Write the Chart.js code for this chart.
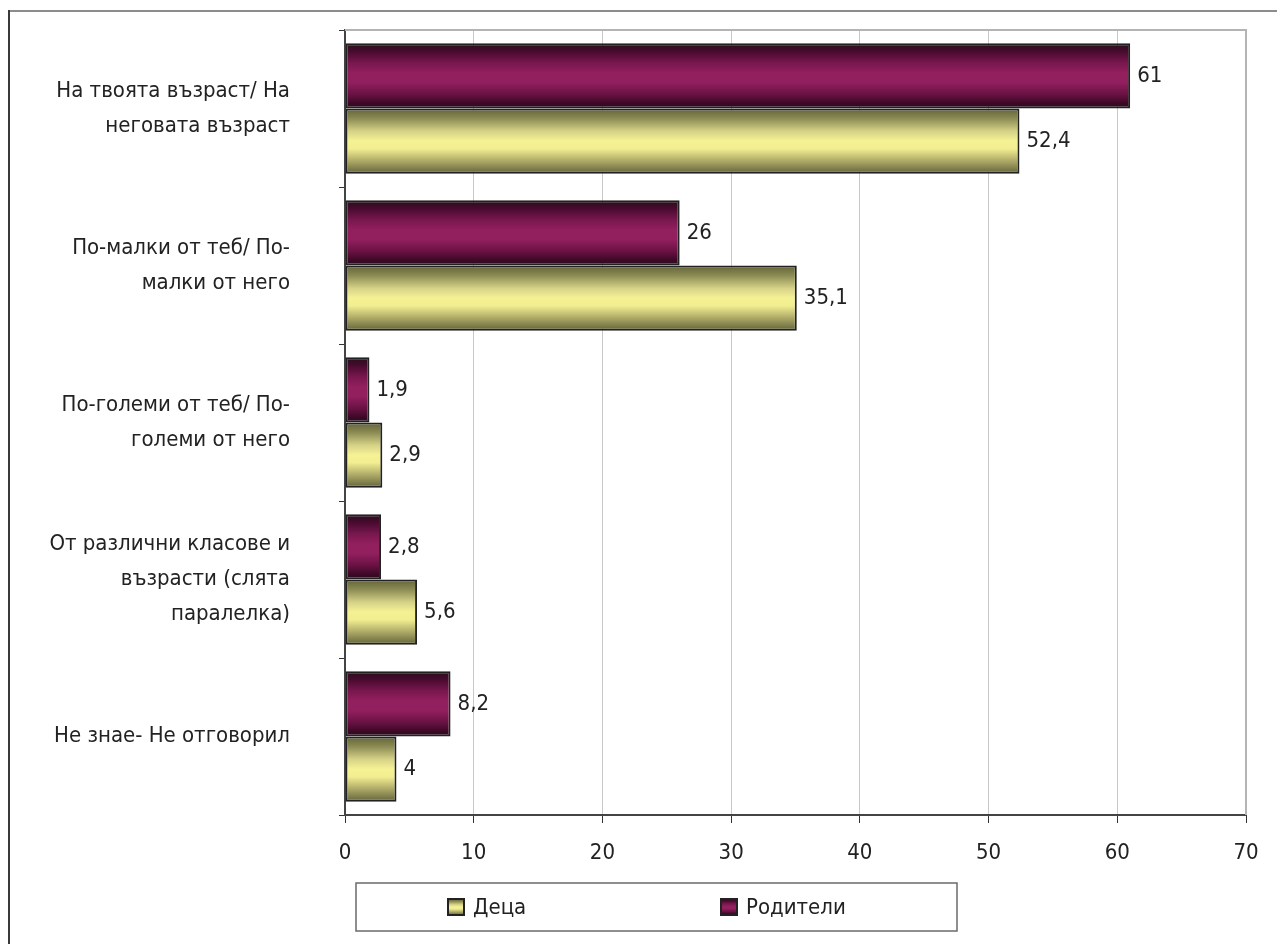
<!DOCTYPE html>
<html>
<head>
<meta charset="utf-8">
<script src="https://cdn.jsdelivr.net/npm/chart.js@4.4.1/dist/chart.umd.min.js"></script>
<style>
  html, body { margin: 0; padding: 0; background: #fff; }
  #wrap { width: 1277px; height: 944px; }
</style>
</head>
<body>
<div id="wrap"><canvas id="ageChart" width="1277" height="944"></canvas></div>
<script>
// survey answers, percent
const categories = [
  ['На твоята възраст/ На', 'неговата възраст'],
  ['По-малки от теб/ По-', 'малки от него'],
  ['По-големи от теб/ По-', 'големи от него'],
  ['От различни класове и', 'възрасти (слята', 'паралелка)'],
  ['Не знае- Не отговорил']
];
const seriesNames = ['Родители', 'Деца'];
const parents = [61, 26, 1.9, 2.8, 8.2];
const children = [52.4, 35.1, 2.9, 5.6, 4];
const xTicks = [0, 10, 20, 30, 40, 50, 60, 70];

const FONT = '"Liberation Sans Narrow", "DejaVu Sans Condensed", "Arial Narrow", sans-serif';
const FONT_SIZE = 22;
const CAT_PCT = 0.83;

const maroonStops = [
  [0, '#26101a'], [0.12, '#470a2e'], [0.3, '#78174e'], [0.45, '#921f5e'],
  [0.6, '#921f5e'], [0.78, '#6a1244'], [0.92, '#3e0826'], [1, '#26101a']
];
const yellowStops = [
  [0, '#62623a'], [0.15, '#8a8a52'], [0.35, '#d6d287'], [0.5, '#f5f294'],
  [0.62, '#f1ed90'], [0.8, '#afab68'], [1, '#62623a']
];

function fmt(v) {
  return String(v).replace('.', ',');
}

function makeGradient(c2d, top, h, stops) {
  const g = c2d.createLinearGradient(0, top, 0, top + h);
  stops.forEach(s => g.addColorStop(s[0], s[1]));
  return g;
}

// shaded fill for each bar, built from the category scale position
function barFill(stops) {
  return function (ctx) {
    const chart = ctx.chart;
    const y = chart.scales && chart.scales.y;
    const flat = stops[3][1];
    if (ctx.type !== 'data' || !y) return flat;
    const band = (y.bottom - y.top) / categories.length;
    const pair = band * CAT_PCT;
    const top = y.getPixelForValue(ctx.dataIndex) - pair / 2 + ctx.datasetIndex * pair / 2;
    if (!isFinite(top) || !isFinite(pair) || pair <= 0) return flat;
    return makeGradient(chart.ctx, top, pair / 2, stops);
  };
}

const frame = {
  id: 'frame',
  beforeDraw(chart) {
    const c = chart.ctx;
    c.save();
    c.fillStyle = '#fff';
    c.fillRect(0, 0, chart.width, chart.height);
    c.strokeStyle = '#8c8c8c';
    c.lineWidth = 2;
    c.beginPath();
    c.moveTo(8, 11);
    c.lineTo(chart.width, 11);
    c.stroke();
    c.strokeStyle = '#3a3a3a';
    c.beginPath();
    c.moveTo(9, 10);
    c.lineTo(9, chart.height);
    c.stroke();
    c.restore();
  },
  afterDraw(chart) {
    const a = chart.chartArea;
    const c = chart.ctx;
    c.save();
    c.strokeStyle = '#b4b4b4';
    c.lineWidth = 2;
    c.beginPath();
    c.moveTo(a.left, a.top);
    c.lineTo(a.right, a.top);
    c.lineTo(a.right, a.bottom);
    c.stroke();
    c.restore();
  }
};

const valueLabels = {
  id: 'valueLabels',
  afterDatasetsDraw(chart) {
    const c = chart.ctx;
    c.save();
    c.font = FONT_SIZE + 'px ' + FONT;
    c.fillStyle = '#222';
    c.textBaseline = 'middle';
    c.textAlign = 'left';
    chart.data.datasets.forEach((ds, i) => {
      chart.getDatasetMeta(i).data.forEach((bar, j) => {
        c.fillText(fmt(ds.data[j]), bar.x + 7, bar.y);
      });
    });
    c.restore();
  }
};

// boxed legend under the axis, series listed bottom-up
const boxLegend = {
  id: 'boxLegend',
  afterDraw(chart) {
    const a = chart.chartArea;
    const c = chart.ctx;
    const left = a.left + 11, top = 883, w = 601, h = 48;
    c.save();
    c.strokeStyle = '#6a6a6a';
    c.lineWidth = 1.5;
    c.strokeRect(left, top, w, h);
    const items = [
      { name: seriesNames[1], stops: yellowStops, x: left + 92 },
      { name: seriesNames[0], stops: maroonStops, x: left + 365 }
    ];
    const cy = top + h / 2;
    c.font = FONT_SIZE + 'px ' + FONT;
    c.textBaseline = 'middle';
    items.forEach(it => {
      const s = 16;
      c.fillStyle = makeGradient(c, cy - s / 2, s, it.stops);
      c.fillRect(it.x, cy - s / 2, s, s);
      c.strokeStyle = '#222';
      c.lineWidth = 2;
      c.strokeRect(it.x, cy - s / 2, s, s);
      c.fillStyle = '#222';
      c.fillText(it.name, it.x + 25, cy + 1);
    });
    c.restore();
  }
};

new Chart(document.getElementById('ageChart'), {
  type: 'bar',
  data: {
    labels: categories,
    datasets: [
      {
        label: seriesNames[0],
        data: parents,
        backgroundColor: barFill(maroonStops),
        borderColor: '#222',
        borderWidth: 2,
        borderSkipped: false,
        categoryPercentage: CAT_PCT,
        barPercentage: 1
      },
      {
        label: seriesNames[1],
        data: children,
        backgroundColor: barFill(yellowStops),
        borderColor: '#222',
        borderWidth: 2,
        borderSkipped: false,
        categoryPercentage: CAT_PCT,
        barPercentage: 1
      }
    ]
  },
  options: {
    indexAxis: 'y',
    responsive: false,
    animation: false,
    layout: { padding: { top: 30, right: 31, left: 0, bottom: 0 } },
    plugins: {
      legend: { display: false },
      tooltip: { enabled: false }
    },
    scales: {
      x: {
        min: 0,
        max: 70,
        afterBuildTicks(scale) {
          scale.ticks = xTicks.map(v => ({ value: v }));
        },
        afterFit(scale) { scale.height = 129; },
        grid: { color: '#c8c8c8', lineWidth: 1, tickColor: '#333', tickLength: 8 },
        border: { color: '#444', width: 2 },
        ticks: { color: '#222', padding: 17, font: { family: FONT, size: FONT_SIZE } }
      },
      y: {
        afterFit(scale) {
          scale.width = 345;
          // multi-line labels should not push the plot down
          scale.paddingTop = 0;
          scale.paddingBottom = 0;
        },
        grid: { drawOnChartArea: false, offset: true, tickColor: '#333', tickLength: 6 },
        border: { color: '#444', width: 2 },
        ticks: { color: '#222', padding: 49, font: { family: FONT, size: FONT_SIZE, lineHeight: 1.6 } }
      }
    }
  },
  plugins: [frame, valueLabels, boxLegend]
});
</script>
</body>
</html>
